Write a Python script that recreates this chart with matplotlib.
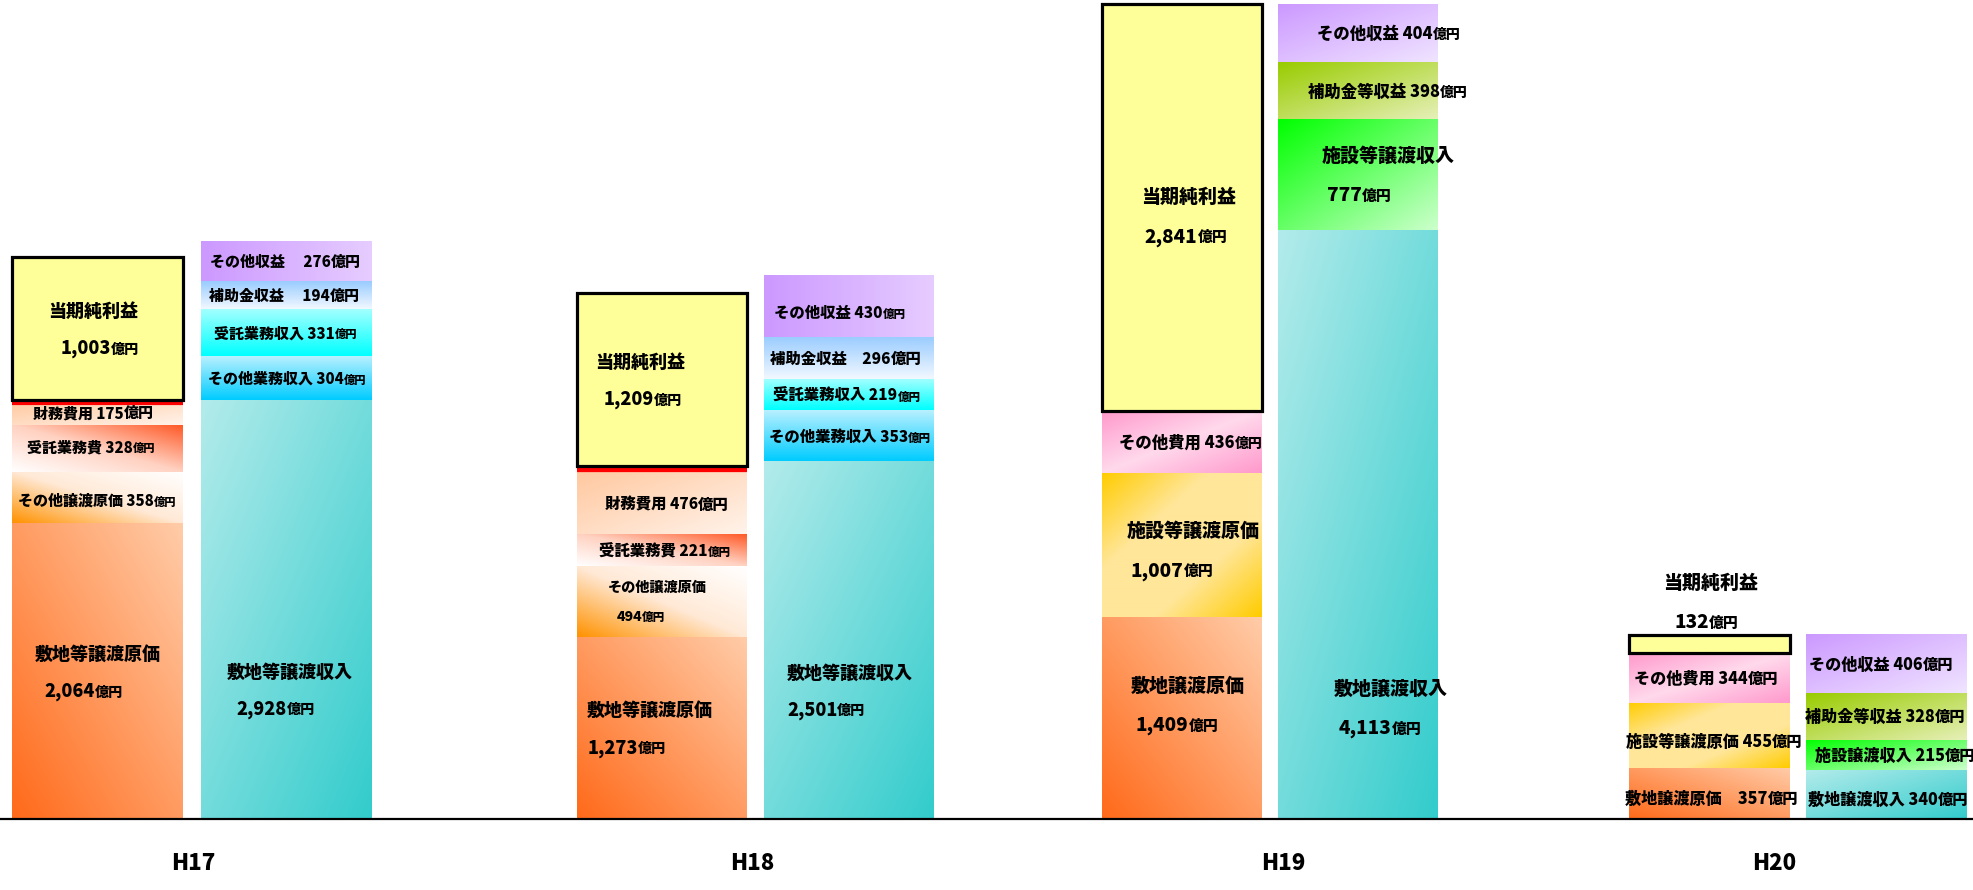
import numpy as np
import matplotlib
matplotlib.use("Agg")
import matplotlib.pyplot as plt
from matplotlib.colors import to_rgb
from matplotlib.transforms import IdentityTransform

plt.rcParams["font.family"] = ["Noto Sans CJK JP", "DejaVu Sans"]

# ---- data (億円) : 下から積み上げ順 ----
years = ["H17", "H18", "H19", "H20"]

h17_cost_names = ["敷地等譲渡原価", "その他譲渡原価", "受託業務費", "財務費用", "当期純利益"]
h17_cost = [2064, 358, 328, 175, 1003]
h17_rev_names = ["敷地等譲渡収入", "その他業務収入", "受託業務収入", "補助金収益", "その他収益"]
h17_rev = [2928, 304, 331, 194, 276]

h18_cost_names = ["敷地等譲渡原価", "その他譲渡原価", "受託業務費", "財務費用", "当期純利益"]
h18_cost = [1273, 494, 221, 476, 1209]
h18_rev_names = ["敷地等譲渡収入", "その他業務収入", "受託業務収入", "補助金収益", "その他収益"]
h18_rev = [2501, 353, 219, 296, 430]

h19_cost_names = ["敷地譲渡原価", "施設等譲渡原価", "その他費用", "当期純利益"]
h19_cost = [1409, 1007, 436, 2841]
h19_rev_names = ["敷地譲渡収入", "施設等譲渡収入", "補助金等収益", "その他収益"]
h19_rev = [4113, 777, 398, 404]

h20_cost_names = ["敷地譲渡原価", "施設等譲渡原価", "その他費用", "当期純利益"]
h20_cost = [357, 455, 344, 132]
h20_rev_names = ["敷地譲渡収入", "施設譲渡収入", "補助金等収益", "その他収益"]
h20_rev = [340, 215, 328, 406]

cost_names = [h17_cost_names, h18_cost_names, h19_cost_names, h20_cost_names]
cost_vals = [h17_cost, h18_cost, h19_cost, h20_cost]
rev_names = [h17_rev_names, h18_rev_names, h19_rev_names, h20_rev_names]
rev_vals = [h17_rev, h18_rev, h19_rev, h20_rev]

# ---- styles ----
# (色の並び, 方向 (u, v))
STYLE = {
    "shikichi_c": (["#FF6A1A", "#FFCCA8"], (1, 1)),
    "sonota_jouto": (["#FF9200", "#FFE9D6", "#FFFFFF"], (1, 1)),
    "jutaku_c": (["#FFFFFF", "#FFD2C2", "#FF5A28"], (1, 1)),
    "zaimu": (["#FFC69C", "#FFF3EA"], (1, -1)),
    "sonota_hiyo": (["#FF99CC", "#FFD9EC", "#FF99CC"], (1, -1)),
    "shisetsu_c": (["#FFCC00", "#FFE699", "#FFE699", "#FFCC00"], (1, -1)),
    "shikichi_r": (["#B3EBEB", "#33CCCC"], (1, -1)),
    "sonota_gyomu": (["#B8F0FF", "#00CCFF"], (0, -1)),
    "jutaku_r": (["#A6FFFF", "#00FFFF"], (0, -1)),
    "hojo_blue": (["#99CCFF", "#F2F8FF"], (0, -1)),
    "hojo_olive": (["#99CC00", "#E6F0B8"], (1, -1)),
    "shisetsu_r": (["#00FF00", "#CCFFCC"], (1, -1)),
    "purple_h": (["#CC99FF", "#E6CCFF"], (1, 0)),
    "purple_d": (["#CC99FF", "#F0E4FF"], (1, -1)),
}
NET_COLOR = "#FFFF99"

# label layout: (style, kind, frac, dx1, dx2, ha, sep, unit ratio)
# kind 1 = 1行, 2 = 2行(大), 3 = 2行(小), 0 = 上に出す
cost_lay = [
    [("shikichi_c", 2, 0.5, 0, -14, "center", "", 0.78),
     ("sonota_jouto", 1, 0.45, 0, 0, "center", " ", 0.75),
     ("jutaku_c", 1, 0.55, -6, 0, "center", " ", 0.75),
     ("zaimu", 1, 0.5, -4, 0, "center", " ", 1.0),
     (None, 2, 0.5, -4, 2, "center", "", 0.78)],
    [("shikichi_c", 2, 0.5, -75, -74, "left", "", 0.78),
     ("sonota_jouto", 3, 0.5, -5, -21, "center", "", 0.82),
     ("jutaku_c", 1, 0.5, 3, 0, "center", " ", 0.75),
     ("zaimu", 1, 0.45, 5, 0, "center", " ", 1.0),
     (None, 2, 0.5, -22, -19, "center", "", 0.78)],
    [("shikichi_c", 2, 0.57, 6, -5, "center", "", 0.78),
     ("shisetsu_c", 2, 0.47, 11, -10, "center", "", 0.78),
     ("sonota_hiyo", 1, 0.5, 9, 0, "center", " ", 0.85),
     (None, 2, 0.48, 7, 4, "center", "", 0.78)],
    [("shikichi_c", 1, 0.42, 2, 0, "center", "　", 0.95),
     ("shisetsu_c", 1, 0.42, 5, 0, "center", " ", 0.95),
     ("sonota_hiyo", 1, 0.5, -3, 0, "center", " ", 0.95),
     (None, 0, 0.5, 1, -3, "center", "", 0.78)],
]
rev_lay = [
    [("shikichi_r", 2, 0.31, 3, -11, "center", "", 0.78),
     ("sonota_gyomu", 1, 0.5, 1, 0, "center", " ", 0.75),
     ("jutaku_r", 1, 0.5, -1, 0, "center", " ", 0.75),
     ("hojo_blue", 1, 0.5, -2, 0, "center", "　 ", 1.0),
     ("purple_h", 1, 0.5, -1, 0, "center", "　 ", 1.0)],
    [("shikichi_r", 2, 0.36, -62, -62, "left", "", 0.78),
     ("sonota_gyomu", 1, 0.5, 1, 0, "center", " ", 0.75),
     ("jutaku_r", 1, 0.5, -2, 0, "center", " ", 0.75),
     ("hojo_blue", 1, 0.5, -3, 0, "center", "　", 1.0),
     ("purple_h", 1, 0.4, -9, 0, "center", " ", 0.75)],
    [("shikichi_r", 2, 0.19, 33, 22, "center", "", 0.78),
     ("shisetsu_r", 2, 0.5, 30, 1, "center", "", 0.78),
     ("hojo_olive", 1, 0.5, 30, 0, "center", " ", 0.85),
     ("purple_d", 1, 0.5, 31, 0, "center", " ", 0.85)],
    [("shikichi_r", 1, 0.42, 2, 0, "center", " ", 0.95),
     ("shisetsu_r", 1, 0.5, 9, 0, "center", " ", 0.95),
     ("hojo_olive", 1, 0.5, -1, 0, "center", " ", 0.95),
     ("purple_d", 1, 0.5, -5, 0, "center", " ", 0.95)],
]

SMALL_PT = [10.8, 11.1, 11.8, 11.6]
BIG_PT = [13.0, 13.0, 13.7, 13.7]

# ---- geometry (pixels) ----
FIG_W, FIG_H, DPI = 1974, 890, 100
BASE_PX = 819
Y_TOP = 5720
Y_BOTTOM = -Y_TOP * (FIG_H - BASE_PX) / BASE_PX
PX = (Y_TOP - Y_BOTTOM) / FIG_H   # 1ピクセル当たりの金額

LEFT_X = [12, 577, 1102, 1629]
BAR_W = [171, 170, 160, 161]
GAP = [18, 17, 16, 16]
YEAR_DX = [1, -3, 13, -24]
YEAR_Y = 864

fig = plt.figure(figsize=(FIG_W / DPI, FIG_H / DPI), dpi=DPI)
ax = fig.add_axes([0, 0, 1, 1])
ax.set_xlim(0, FIG_W)
ax.set_ylim(Y_BOTTOM, Y_TOP)
ax.set_autoscale_on(False)
ax.axis("off")
rend = fig.canvas.get_renderer()


def grad_fill(patch, key):
    stops, (du, dv) = STYLE[key]
    x0, y0 = patch.get_x(), patch.get_y()
    x1, y1 = x0 + patch.get_width(), y0 + patch.get_height()
    n = 80
    u, v = np.meshgrid(np.linspace(0, 1, n), np.linspace(0, 1, n))
    t = u * du + v * dv
    t = (t - t.min()) / (t.max() - t.min())
    cols = np.array([to_rgb(c) for c in stops])
    pos = np.linspace(0, 1, len(cols))
    img = np.dstack([np.interp(t, pos, cols[:, k]) for k in range(3)])
    ax.imshow(img, extent=(x0, x1, y0, y1), origin="lower", aspect="auto",
              interpolation="bilinear", zorder=1)


def put_line(x, y, parts, ha="center"):
    arts = [ax.text(0, 0, s, fontsize=fs, fontweight="heavy", color="black",
                    transform=IdentityTransform(), ha="left", va="baseline", zorder=6)
            for s, fs in parts]
    ws = [a.get_window_extent(rend).width for a in arts]
    xs = x - sum(ws) / 2 if ha == "center" else x
    base = y - 0.38 * max(fs for _, fs in parts) * DPI / 72
    for a, w in zip(arts, ws):
        a.set_position((xs, base))
        xs += w


def draw_stack(i, xc, w, names, vals, lays):
    bottoms = np.concatenate([[0], np.cumsum(vals)[:-1]])
    bars = ax.bar([xc] * len(vals), vals, bottom=bottoms, width=w,
                  color="none", edgecolor="none", zorder=2)
    small, big = SMALL_PT[i], BIG_PT[i]
    for p, name, v, lay in zip(bars.patches, names, vals, lays):
        key, kind, frac, dx1, dx2, ha, sep, ur = lay
        if key is None:   # 当期純利益
            p.set_facecolor(NET_COLOR)
            p.set_edgecolor("black")
            p.set_linewidth(2.3)
            p.set_zorder(4)
            if names[len(names) - 2] == "財務費用":
                yb = p.get_y() - 2.5 * PX
                ax.plot([p.get_x(), p.get_x() + w], [yb, yb], color="#FF0000",
                        lw=3 if i == 0 else 4.5, solid_capstyle="butt", zorder=3)
        else:
            grad_fill(p, key)
        bx, by = ax.transData.transform((xc, p.get_y() + p.get_height() * frac))
        val = f"{v:,}"
        if kind == 1:
            put_line(bx + dx1, by, [(name + sep + val, small), ("億円", small * ur)], ha)
        else:
            fs = big if kind != 3 else small * 0.92
            sp = 2.05 * fs * DPI / 72
            if kind == 0:
                _, top = ax.transData.transform((xc, p.get_y() + p.get_height()))
                by = top + 33
            put_line(bx + dx1, by + sp / 2, [(name, fs)], ha)
            put_line(bx + dx2, by - sp / 2, [(val, fs), ("億円", fs * ur)], ha)


for i, yr in enumerate(years):
    w = BAR_W[i]
    xl = LEFT_X[i] + w / 2
    xr = LEFT_X[i] + w + GAP[i] + w / 2
    draw_stack(i, xl, w, cost_names[i], cost_vals[i], cost_lay[i])
    draw_stack(i, xr, w, rev_names[i], rev_vals[i], rev_lay[i])
    gx = (LEFT_X[i] + LEFT_X[i] + 2 * w + GAP[i]) / 2 + YEAR_DX[i]
    ax.text(gx, FIG_H - YEAR_Y, yr, transform=IdentityTransform(), fontsize=16,
            fontweight="heavy", ha="center", va="center", color="black")

ax.axhline(0, color="black", lw=1.6, zorder=5)

fig.savefig("out.png", dpi=DPI)
